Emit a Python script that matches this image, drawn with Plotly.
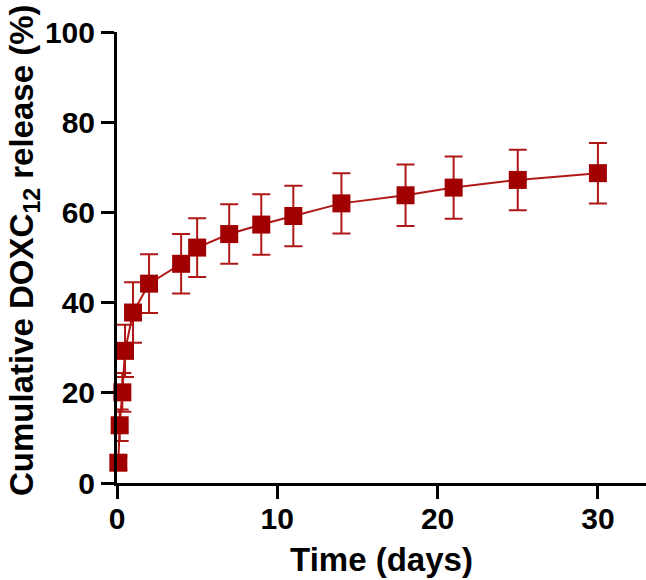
import plotly.graph_objects as go

# Data
time_days = [0.083, 0.167, 0.333, 0.5, 1, 2, 4, 5, 7, 9, 11, 14, 18, 21, 25, 30]
release_pct = [4.5, 12.8, 20.1, 29.3, 37.8, 44.2, 48.6, 52.2, 55.2, 57.3, 59.2, 62.0, 63.8, 65.5, 67.2, 68.7]
release_err = [1.5, 3.5, 4.3, 5.8, 6.7, 6.5, 6.6, 6.5, 6.6, 6.7, 6.7, 6.7, 6.8, 6.9, 6.7, 6.7]

x_ticks = [0, 10, 20, 30]
y_ticks = [0, 20, 40, 60, 80, 100]

x_title = "Time (days)"
y_title = "Cumulative DOXC<sub>12</sub> release (%)"

FONT = "Liberation Sans, Arial, sans-serif"
MARKER_COLOR = "#A00000"
LINE_COLOR = "#B01818"

W, H = 646, 580
ML, MT, MB, MR = 117, 32, 97, 0
PW, PH = W - ML - MR, H - MT - MB

fig = go.Figure()
fig.add_trace(go.Scatter(
    x=time_days, y=release_pct,
    mode="lines+markers",
    line=dict(color=LINE_COLOR, width=2),
    marker=dict(symbol="square", size=18, color=MARKER_COLOR,
                line=dict(width=0)),
    error_y=dict(type="data", array=release_err, visible=True,
                 color=LINE_COLOR, thickness=2, width=9),
    cliponaxis=False,
    showlegend=False,
))

axis_common = dict(
    showline=True, linecolor="black", linewidth=3,
    ticks="outside", ticklen=13, tickwidth=3, tickcolor="black",
    showgrid=False, zeroline=False, automargin=False,
    tickfont=dict(family=FONT, size=30, color="black", weight="bold"),
)

fig.update_layout(
    width=W, height=H,
    margin=dict(l=ML, r=MR, t=MT, b=MB, autoexpand=False),
    plot_bgcolor="white", paper_bgcolor="white",
    xaxis=dict(range=[0, 33], tickvals=x_ticks, ticklabelstandoff=-6,
               title=dict(text=x_title, standoff=14,
                          font=dict(family=FONT, size=33, color="black", weight="bold")),
               **axis_common),
    yaxis=dict(range=[0, 100], tickvals=y_ticks,
               **axis_common),
)

# y-axis title placed as a rotated annotation (pixel centre ~ (24, 250))
fig.add_annotation(
    text=y_title, textangle=-90, showarrow=False,
    xref="paper", yref="paper",
    x=(24 - ML) / PW, y=1 - (250 - MT) / PH,
    xanchor="center", yanchor="middle",
    font=dict(family=FONT, size=33, color="black", weight="bold"),
)

fig.write_html(
    "out.html",
    config={"displayModeBar": False},
    post_script="document.body.style.margin='0';document.body.style.overflow='hidden';",
)
